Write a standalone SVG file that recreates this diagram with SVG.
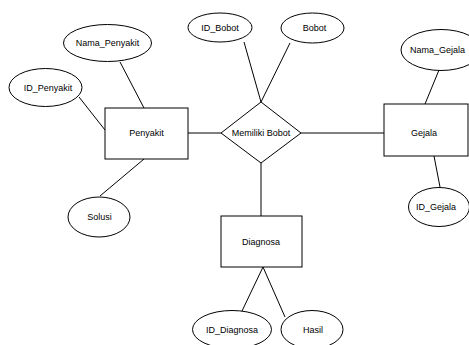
<svg xmlns="http://www.w3.org/2000/svg" width="469" height="345" viewBox="0 0 469 345">
<style>
.s{fill:#fff;stroke:#000;stroke-width:1}
.t{font-family:"Liberation Sans",Arial,sans-serif;font-size:9px;fill:#000;text-anchor:middle}
.c line{stroke:#000;stroke-width:1}
</style>
<rect width="469" height="345" fill="#fff"/>
<g class="c" id="connectors">
<line x1="120" y1="62" x2="144" y2="108"/>
<line x1="79" y1="97" x2="105" y2="130"/>
<line x1="144" y1="159" x2="100" y2="196"/>
<line x1="188" y1="133" x2="221" y2="133"/>
<line x1="244" y1="42" x2="261" y2="102"/>
<line x1="290" y1="43" x2="261" y2="102"/>
<line x1="301" y1="133" x2="384" y2="133"/>
<line x1="439" y1="70" x2="425" y2="104"/>
<line x1="434" y1="156" x2="440" y2="187"/>
<line x1="261" y1="163" x2="261" y2="216"/>
<line x1="263" y1="267" x2="242" y2="311"/>
<line x1="263" y1="267" x2="285" y2="317"/>
</g>
<g id="penyakit"><rect class="s" x="105" y="108" width="83" height="51"/><text class="t" x="146.5" y="136">Penyakit</text></g>
<g id="nama_penyakit"><ellipse class="s" cx="107.5" cy="43" rx="44" ry="18.5"/><text class="t" x="107.5" y="46">Nama_Penyakit</text></g>
<g id="id_penyakit"><ellipse class="s" cx="45.5" cy="87.5" rx="36.5" ry="19"/><text class="t" x="48" y="91">ID_Penyakit</text></g>
<g id="solusi"><ellipse class="s" cx="99" cy="217" rx="31" ry="20"/><text class="t" x="99.5" y="220">Solusi</text></g>
<g id="memiliki_bobot"><polygon class="s" points="261,102 301,133 261,163 221,133"/><text class="t" x="261" y="136">Memiliki Bobot</text></g>
<g id="id_bobot"><ellipse class="s" cx="220" cy="27.5" rx="32" ry="14.5"/><text class="t" x="220" y="31">ID_Bobot</text></g>
<g id="bobot"><ellipse class="s" cx="312.5" cy="28" rx="31.5" ry="15"/><text class="t" x="314.5" y="31">Bobot</text></g>
<g id="gejala"><rect class="s" x="384" y="104" width="84" height="52"/><text class="t" x="424" y="136">Gejala</text></g>
<g id="nama_gejala"><ellipse class="s" cx="441" cy="50" rx="40" ry="20.5"/><text class="t" x="437.5" y="53">Nama_Gejala</text></g>
<g id="id_gejala"><ellipse class="s" cx="439" cy="207" rx="30.5" ry="19.5"/><text class="t" x="436" y="210">ID_Gejala</text></g>
<g id="diagnosa"><rect class="s" x="221" y="216" width="81" height="51"/><text class="t" x="261" y="245">Diagnosa</text></g>
<g id="id_diagnosa"><ellipse class="s" cx="232" cy="329.5" rx="39.5" ry="19"/><text class="t" x="232" y="333">ID_Diagnosa</text></g>
<g id="hasil"><ellipse class="s" cx="312" cy="329.5" rx="31" ry="19"/><text class="t" x="313" y="333">Hasil</text></g>
</svg>
